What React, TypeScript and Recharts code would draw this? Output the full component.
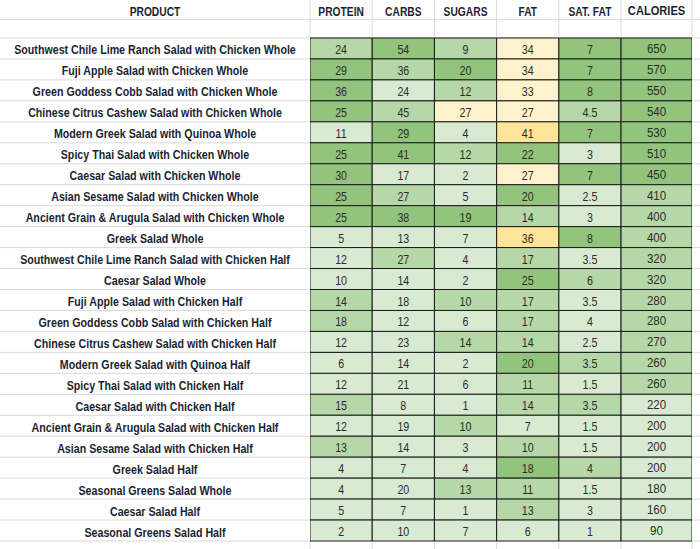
import React from "react";
import { BarChart, Bar, XAxis, YAxis, Cell, LabelList, Customized } from "recharts";

const products = [
  "Southwest Chile Lime Ranch Salad with Chicken Whole",
  "Fuji Apple Salad with Chicken Whole",
  "Green Goddess Cobb Salad with Chicken Whole",
  "Chinese Citrus Cashew Salad with Chicken Whole",
  "Modern Greek Salad with Quinoa Whole",
  "Spicy Thai Salad with Chicken Whole",
  "Caesar Salad with Chicken Whole",
  "Asian Sesame Salad with Chicken Whole",
  "Ancient Grain & Arugula Salad with Chicken Whole",
  "Greek Salad Whole",
  "Southwest Chile Lime Ranch Salad with Chicken Half",
  "Caesar Salad Whole",
  "Fuji Apple Salad with Chicken Half",
  "Green Goddess Cobb Salad with Chicken Half",
  "Chinese Citrus Cashew Salad with Chicken Half",
  "Modern Greek  Salad with Quinoa Half",
  "Spicy Thai Salad with Chicken Half",
  "Caesar Salad with Chicken Half",
  "Ancient Grain & Arugula Salad with Chicken Half",
  "Asian Sesame Salad with Chicken Half",
  "Greek Salad Half",
  "Seasonal Greens Salad Whole",
  "Caesar Salad Half",
  "Seasonal Greens Salad Half",
];

const headers = ["PROTEIN", "CARBS", "SUGARS", "FAT", "SAT. FAT", "CALORIES"];

const protein = [24, 29, 36, 25, 11, 25, 30, 25, 25, 5, 12, 10, 14, 18, 12, 6, 12, 15, 12, 13, 4, 4, 5, 2];
const carbs = [54, 36, 24, 45, 29, 41, 17, 27, 38, 13, 27, 14, 18, 12, 23, 14, 21, 8, 19, 14, 7, 20, 7, 10];
const sugars = [9, 20, 12, 27, 4, 12, 2, 5, 19, 7, 4, 2, 10, 6, 14, 2, 6, 1, 10, 3, 4, 13, 1, 7];
const fat = [34, 34, 33, 27, 41, 22, 27, 20, 14, 36, 17, 25, 17, 17, 14, 20, 11, 14, 7, 10, 18, 11, 13, 6];
const satFat = [7, 7, 8, 4.5, 7, 3, 7, 2.5, 3, 8, 3.5, 6, 3.5, 4, 2.5, 3.5, 1.5, 3.5, 1.5, 1.5, 4, 1.5, 3, 1];
const calories = [650, 570, 550, 540, 530, 510, 450, 410, 400, 400, 320, 320, 280, 280, 270, 260, 260, 220, 200, 200, 200, 180, 160, 90];

// rating tier of each cell (L light green, M mid green, D dark green, Y pale yellow, O yellow)
const proteinTier = ["M","D","D","D","L","D","D","D","D","L","L","L","M","M","L","L","L","M","L","M","L","L","L","L"];
const carbsTier = ["D","M","L","M","D","D","L","M","D","L","M","L","L","L","L","L","L","L","L","L","L","L","L","L"];
const sugarsTier = ["M","D","M","Y","L","M","L","L","D","L","L","L","M","L","M","L","L","L","M","L","L","M","L","L"];
const fatTier = ["Y","Y","Y","Y","O","D","Y","D","M","O","M","D","M","M","M","D","M","M","L","M","D","M","M","L"];
const satFatTier = ["D","D","D","M","D","L","D","L","L","D","L","M","L","L","L","M","L","M","L","L","M","L","L","L"];
const caloriesTier = ["D","D","D","D","D","D","D","M","M","M","M","M","M","M","M","M","M","L","L","L","L","L","L","L"];

const valueKeys = ["protein", "carbs", "sugars", "fat", "satFat", "calories"];
const valueArrays = [protein, carbs, sugars, fat, satFat, calories];
const tierArrays = [proteinTier, carbsTier, sugarsTier, fatTier, satFatTier, caloriesTier];

const PALETTE: Record<string, string> = {
  L: "#d9ead3",
  M: "#b6d7a8",
  D: "#93c47d",
  Y: "#fff2cc",
  O: "#ffe599",
};

const COL_W = [1, 1, 1, 1, 1, 1.14];
const TOTAL_W = COL_W.reduce((a, b) => a + b, 0);
const colCenters = COL_W.map((w, i) => COL_W.slice(0, i).reduce((a, b) => a + b, 0) + w / 2);

const CHART_W = 700;
const CHART_H = 549;
const YAXIS_W = 310;
const HEADER_H = 38;
const MARGIN = { top: 0, right: 8, bottom: 8, left: 0 };
const PLOT_H = CHART_H - HEADER_H - MARGIN.top - MARGIN.bottom;
const PLOT_W = CHART_W - YAXIS_W - MARGIN.left - MARGIN.right;
const ROW_H = PLOT_H / products.length;

const FONT = "'Liberation Sans', Arial, sans-serif";
const SX = 0.855;
const GRID = "#d9d9d9";
const INK = "#1b1f33";

const rows = products.map((p, i) => {
  const r: Record<string, any> = { product: p };
  valueKeys.forEach((k, j) => {
    r[k] = valueArrays[j][i];
  });
  return r;
});

const NarrowText = (p: {
  x: number;
  y: number;
  size: number;
  bold?: boolean;
  fill: string;
  children: React.ReactNode;
}) => (
  <text
    transform={`translate(${p.x},${p.y}) scale(${SX},1)`}
    textAnchor="middle"
    fontFamily={FONT}
    fontWeight={p.bold ? "bold" : "normal"}
    fontSize={p.size}
    fill={p.fill}
  >
    {p.children}
  </text>
);

const ProductTick = (props: any) => {
  const { y, payload } = props;
  return (
    <NarrowText x={YAXIS_W / 2} y={y + 6} size={12.5} bold fill={INK}>
      {payload.value}
    </NarrowText>
  );
};

const HeaderTick = (props: any) => {
  const { x, index } = props;
  const isCal = index === headers.length - 1;
  return (
    <NarrowText x={x} y={isCal ? 15 : 15.7} size={isCal ? 13 : 12} bold fill={INK}>
      {headers[index]}
    </NarrowText>
  );
};

const makeLabel = (isCal: boolean) => (props: any) => {
  const { x, y, width, height, value } = props;
  return (
    <NarrowText
      x={x + width / 2}
      y={y + height / 2 + (isCal ? 4.5 : 5.5)}
      size={isCal ? 13.5 : 12.5}
      fill="#2b2b2b"
    >
      {value}
    </NarrowText>
  );
};

const Gridlines = () => {
  const lines: React.ReactNode[] = [];
  const top = MARGIN.top + HEADER_H;
  const bottom = top + PLOT_H;
  const right = YAXIS_W + PLOT_W;
  const unit = PLOT_W / TOTAL_W;
  lines.push(<line key="h0" x1={0} x2={CHART_W} y1={19.5} y2={19.5} stroke={GRID} />);
  for (let i = 0; i <= products.length; i++) {
    const yy = top + i * ROW_H;
    lines.push(<line key={`l${i}`} x1={0} x2={YAXIS_W} y1={yy} y2={yy} stroke={GRID} />);
    lines.push(<line key={`r${i}`} x1={right} x2={CHART_W} y1={yy} y2={yy} stroke={GRID} />);
  }
  lines.push(<line key="hd" x1={YAXIS_W} x2={right} y1={top - 0.5} y2={top - 0.5} stroke={GRID} />);
  let acc = 0;
  for (let j = 0; j <= COL_W.length; j++) {
    const xx = YAXIS_W + acc * unit;
    lines.push(<line key={`vt${j}`} x1={xx} x2={xx} y1={0} y2={top} stroke={GRID} />);
    lines.push(<line key={`vb${j}`} x1={xx} x2={xx} y1={bottom} y2={CHART_H} stroke={GRID} />);
    if (j < COL_W.length) acc += COL_W[j];
  }
  return <g>{lines}</g>;
};

export default function App() {
  return (
    <div style={{ position: "absolute", left: 0, top: 0, width: CHART_W, height: CHART_H, background: "#fff" }}>
      <BarChart
        width={CHART_W}
        height={CHART_H}
        data={rows}
        layout="vertical"
        margin={MARGIN}
        barCategoryGap={0}
      >
        <Customized component={Gridlines} />
        <XAxis
          type="number"
          orientation="top"
          domain={[0, TOTAL_W]}
          ticks={colCenters}
          interval={0}
          height={HEADER_H}
          axisLine={false}
          tickLine={false}
          tick={<HeaderTick />}
          allowDataOverflow
        />
        <YAxis
          type="category"
          dataKey="product"
          width={YAXIS_W}
          axisLine={false}
          tickLine={false}
          interval={0}
          tick={<ProductTick />}
        />
        {valueKeys.map((k, j) => (
          <Bar
            key={k}
            dataKey={() => COL_W[j]}
            stackId="t"
            stroke="#1a1a1a"
            strokeWidth={1}
            isAnimationActive={false}
          >
            {rows.map((_, i) => (
              <Cell key={i} fill={PALETTE[tierArrays[j][i]]} />
            ))}
            <LabelList dataKey={k} content={makeLabel(j === valueKeys.length - 1)} />
          </Bar>
        ))}
        <NarrowText x={YAXIS_W / 2} y={15.7} size={12} bold fill={INK}>
          PRODUCT
        </NarrowText>
      </BarChart>
    </div>
  );
}
